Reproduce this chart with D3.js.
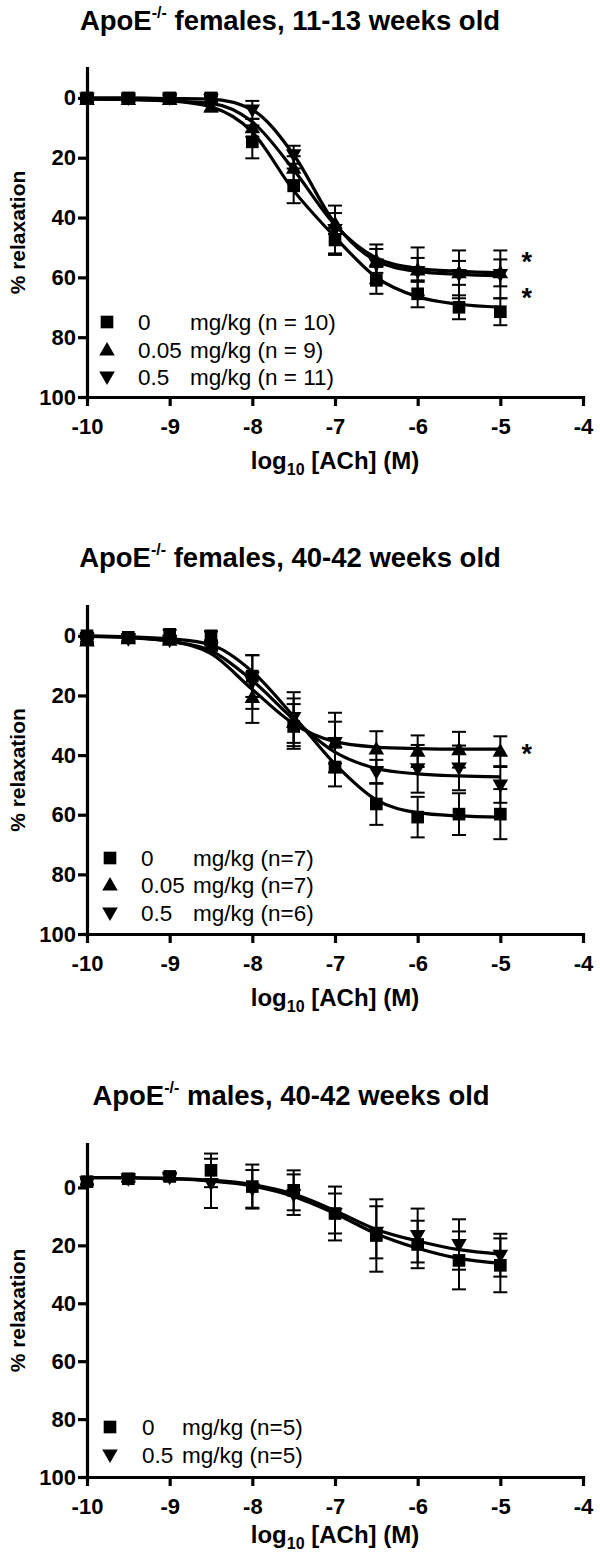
<!DOCTYPE html>
<html><head><meta charset="utf-8">
<script src="https://cdn.jsdelivr.net/npm/d3@7"></script>
<style>
body{margin:0;background:#fff}
svg{display:block}
text{font-family:"Liberation Sans",Arial,Helvetica,sans-serif;fill:#000}
</style>
</head><body>
<svg id="chart" width="600" height="1558"></svg>
<script>
// ---------- shared axis data ----------
const logAch = [-10, -9.5, -9, -8.5, -8, -7.5, -7, -6.5, -6, -5.5, -5];
const xTicks = [-10, -9, -8, -7, -6, -5, -4];
const yTicks = [0, 20, 40, 60, 80, 100];

// ---------- Panel 1: ApoE-/- females, 11-13 weeks ----------
const p1_title = " females, 11-13 weeks old";
const p1_doses = ["0", "0.05", "0.5"];
const p1_ns = ["mg/kg (n = 10)", "mg/kg (n = 9)", "mg/kg (n = 11)"];
const p1_shapes = ["square", "up", "down"];
const p1_mean_0 = [0, 0, 0, 0, 14.7, 29.4, 47.5, 61, 65.5, 70, 71.5];
const p1_sem_0 = [1, 1, 1, 1.5, 5.5, 5.8, 5, 4.5, 4.5, 4, 4.5];
const p1_fit_0 = [0.3, 0.5, 1.0, 3.0, 11.4, 31, 46.5, 60, 66.5, 69, 70];
const p1_mean_005 = [0.5, 0.5, 0.5, 3, 10, 23.5, 42, 54.5, 57.5, 58.5, 58.5];
const p1_sem_005 = [1, 1, 1, 1.5, 3, 4, 3.5, 4, 4, 4, 4.5];
const p1_fit_005 = [0.3, 0.5, 1.0, 1.8, 8, 24, 42.5, 53.5, 57, 58, 58.5];
const p1_mean_05 = [0, 0, 0, 0.5, 4, 19, 44, 55.5, 58, 59, 59];
const p1_sem_05 = [1, 1, 1, 1, 3, 3, 8, 6.5, 8, 8, 8];
const p1_fit_05 = [0, 0, 0.2, 0.4, 4, 19, 42, 54.5, 58, 59, 59.5];
const p1_stars = [[-4.68, 53], [-4.68, 65]];

// ---------- Panel 2: ApoE-/- females, 40-42 weeks ----------
const p2_title = " females, 40-42 weeks old";
const p2_doses = ["0", "0.05", "0.5"];
const p2_ns = ["mg/kg (n=7)", "mg/kg (n=7)", "mg/kg (n=6)"];
const p2_shapes = ["square", "up", "down"];
const p2_mean_0 = [0, 0.5, -0.5, 0, 13.5, 30.4, 44, 56.4, 60.8, 59.8, 59.8];
const p2_sem_0 = [1, 1, 1.5, 1.5, 7, 7.5, 6.5, 7, 6.8, 7, 8.4];
const p2_fit_0 = [0.1, 0.3, 1, 3, 12, 27, 43, 55, 59.3, 60.4, 60.8];
const p2_mean_005 = [1.7, 1, 1.5, 3, 20.7, 29, 35.8, 38, 38.7, 38.2, 38.7];
const p2_sem_005 = [1, 1, 1, 1, 8.5, 8, 10, 6, 5.3, 6, 5];
const p2_fit_005 = [0.1, 0.5, 1.8, 6, 18, 29.5, 35.5, 37.3, 37.8, 38, 38];
const p2_mean_05 = [1, 1, 1.5, 4, 15.5, 27.4, 35.8, 45.6, 44.6, 44.3, 50];
const p2_sem_05 = [1, 1, 1, 1, 9, 8.5, 7, 4, 8, 7.5, 6];
const p2_fit_05 = [0.2, 0.6, 1.8, 5, 15, 28, 39, 44.5, 46.3, 47, 47.3];
const p2_stars = [[-4.68, 37.5]];

// ---------- Panel 3: ApoE-/- males, 40-42 weeks ----------
const p3_title = " males, 40-42 weeks old";
const p3_doses = ["0", "0.5"];
const p3_ns = ["mg/kg (n=5)", "mg/kg (n=5)"];
const p3_shapes = ["square", "down"];
const p3_mean_0 = [-2, -3, -3.8, -5.9, -0.3, 1, 9, 16.6, 19.7, 25.2, 26.9];
const p3_sem_0 = [1, 1, 1, 5.8, 7.6, 6.9, 9.3, 12.5, 8.2, 10, 9.3];
const p3_fit_0 = [-3.4, -3.3, -3, -2.2, -0.5, 3.1, 9, 16, 21, 24.5, 26.2];
const p3_mean_05 = [-2, -3, -3.5, -1.4, 0.5, 2.5, 9, 15.5, 16.6, 19.7, 23.4];
const p3_sem_05 = [1, 1, 1, 8.5, 6.5, 7, 6.9, 9, 9.3, 8.7, 7.4];
const p3_fit_05 = [-3.4, -3.35, -3.1, -2.5, -1, 2.3, 8, 14.5, 18.5, 21.5, 23];
const p3_stars = [];

// ---------- assemble (layout in pixels lives here, not in data) ----------
const panels = [
  { title: p1_title, cx: 290, titleY: 30, yTopVal: -10, yTopPx: 68, y100Px: 397, xlabY: 469,
    legX: 107, legY: [322, 350, 377], doseX: 138, nX: 190,
    doses: p1_doses, ns: p1_ns, shapes: p1_shapes, stars: p1_stars,
    series: [
      { shape: "square", mean: p1_mean_0, sem: p1_sem_0, fit: p1_fit_0 },
      { shape: "up", mean: p1_mean_005, sem: p1_sem_005, fit: p1_fit_005 },
      { shape: "down", mean: p1_mean_05, sem: p1_sem_05, fit: p1_fit_05 } ] },
  { title: p2_title, cx: 290, titleY: 567, yTopVal: -10, yTopPx: 606, y100Px: 934, xlabY: 1006,
    legX: 110, legY: [858, 885, 913], doseX: 141, nX: 193,
    doses: p2_doses, ns: p2_ns, shapes: p2_shapes, stars: p2_stars,
    series: [
      { shape: "square", mean: p2_mean_0, sem: p2_sem_0, fit: p2_fit_0 },
      { shape: "up", mean: p2_mean_005, sem: p2_sem_005, fit: p2_fit_005 },
      { shape: "down", mean: p2_mean_05, sem: p2_sem_05, fit: p2_fit_05 } ] },
  { title: p3_title, cx: 291, titleY: 1105, yTopVal: -15, yTopPx: 1144, y100Px: 1477, xlabY: 1543,
    legX: 110, legY: [1427, 1455], doseX: 142, nX: 182,
    doses: p3_doses, ns: p3_ns, shapes: p3_shapes, stars: p3_stars,
    series: [
      { shape: "square", mean: p3_mean_0, sem: p3_sem_0, fit: p3_fit_0 },
      { shape: "down", mean: p3_mean_05, sem: p3_sem_05, fit: p3_fit_05 } ] }
];

const svg = d3.select("#chart");
const x = d3.scaleLinear().domain([-10, -4]).range([87, 583]);
const fmt = d => String(d); // plain hyphen-minus like the reference

function symbolPath(shape) {
  if (shape === "square") return d3.symbol().type(d3.symbolSquare).size(160)();
  return d3.symbol().type(d3.symbolTriangle).size(105)();
}
function symTransform(shape, px, py) {
  const dy = shape === "square" ? 0 : (shape === "up" ? 1 : -1);
  return `translate(${px},${py + dy})` + (shape === "down" ? " rotate(180)" : "");
}

panels.forEach(p => {
  const g = svg.append("g");
  const y = d3.scaleLinear().domain([p.yTopVal, 100]).range([p.yTopPx, p.y100Px]);

  // title
  const t = g.append("text").attr("x", p.cx).attr("y", p.titleY)
    .attr("text-anchor", "middle").style("font-weight", "bold").style("font-size", "27.5px");
  t.append("tspan").text("ApoE");
  t.append("tspan").text("-/-").style("font-size", "16px").attr("dy", -12);
  t.append("tspan").text(p.title).attr("dy", 12);

  // y axis
  const ya = g.append("g").attr("transform", `translate(${x(-10)},0)`)
    .call(d3.axisLeft(y).tickValues(yTicks).tickFormat(fmt).tickSizeInner(9).tickSizeOuter(0).tickPadding(2));
  // x axis
  const xa = g.append("g").attr("transform", `translate(0,${y(100)})`)
    .call(d3.axisBottom(x).tickValues(xTicks).tickFormat(fmt).tickSizeInner(9).tickSizeOuter(0).tickPadding(12));
  [ya, xa].forEach(a => {
    a.select(".domain").attr("stroke", "#000").attr("stroke-width", 3.2).attr("stroke-linecap", "square");
    a.selectAll(".tick line").attr("stroke", "#000").attr("stroke-width", 3.2);
    a.selectAll(".tick text").style("font-size", "22px").style("font-weight", "bold")
      .style("font-family", '"Liberation Sans",Arial,sans-serif').attr("fill", "#000");
  });

  // y label
  g.append("text").attr("transform", `translate(25,${(p.yTopPx + p.y100Px) / 2}) rotate(-90)`)
    .attr("text-anchor", "middle").style("font-weight", "bold").style("font-size", "21px")
    .text("% relaxation");

  // x label
  const xl = g.append("text").attr("x", x(-7)).attr("y", p.xlabY)
    .attr("text-anchor", "middle").style("font-weight", "bold").style("font-size", "24px");
  xl.append("tspan").text("log");
  xl.append("tspan").text("10").style("font-size", "16px").attr("dy", 6);
  xl.append("tspan").text(" [ACh] (M)").attr("dy", -6);

  // error bars
  p.series.forEach(s => {
    const eb = g.append("g").attr("stroke", "#000").attr("stroke-width", 2);
    logAch.forEach((lx, i) => {
      const px = x(lx), lo = y(s.mean[i] - s.sem[i]), hi = y(s.mean[i] + s.sem[i]);
      eb.append("line").attr("x1", px).attr("x2", px).attr("y1", lo).attr("y2", hi);
      eb.append("line").attr("x1", px - 7).attr("x2", px + 7).attr("y1", lo).attr("y2", lo);
      eb.append("line").attr("x1", px - 7).attr("x2", px + 7).attr("y1", hi).attr("y2", hi);
    });
  });
  // fitted curves
  const line = d3.line().x(d => x(d[0])).y(d => y(d[1])).curve(d3.curveMonotoneX);
  p.series.forEach(s => {
    g.append("path").attr("d", line(logAch.map((lx, i) => [lx, s.fit[i]])))
      .attr("fill", "none").attr("stroke", "#000").attr("stroke-width", 3.2);
  });
  // markers
  p.series.forEach(s => {
    g.append("g").selectAll("path").data(logAch).join("path")
      .attr("d", symbolPath(s.shape))
      .attr("transform", (lx, i) => symTransform(s.shape, x(lx), y(s.mean[i])))
      .attr("fill", "#000");
  });

  // significance stars
  p.stars.forEach(st => {
    g.append("text").attr("x", x(st[0])).attr("y", y(st[1]) + 15)
      .attr("text-anchor", "middle").style("font-weight", "bold").style("font-size", "27px").text("*");
  });

  // legend
  p.doses.forEach((d, i) => {
    g.append("path").attr("d", symbolPath(p.shapes[i]))
      .attr("transform", symTransform(p.shapes[i], p.legX, p.legY[i])).attr("fill", "#000");
    g.append("text").attr("x", p.doseX).attr("y", p.legY[i] + 8).style("font-size", "22.5px").text(d);
    g.append("text").attr("x", p.nX).attr("y", p.legY[i] + 8).style("font-size", "22.5px").text(p.ns[i]);
  });
});
</script>
</body></html>
